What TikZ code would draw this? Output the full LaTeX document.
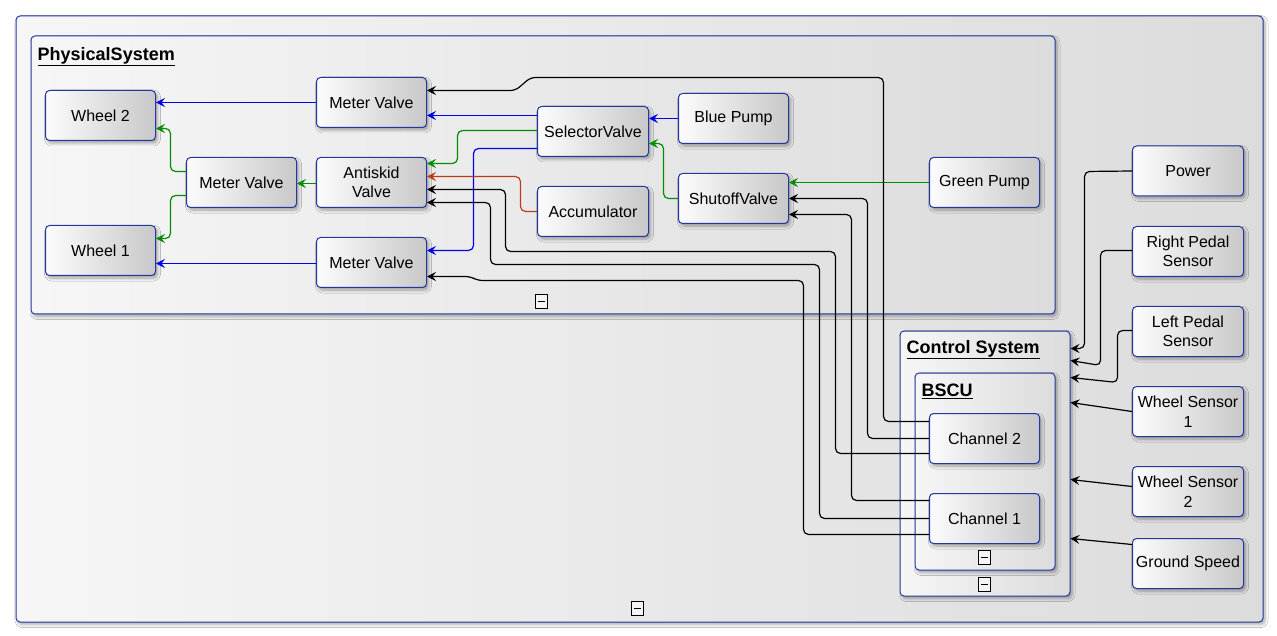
\documentclass[tikz,border=0pt]{standalone}
\usepackage{fontspec}
\setmainfont{Liberation Sans}
\usetikzlibrary{arrows.meta,shadows,shadows.blur}

\definecolor{frameblue}{RGB}{35,55,160}
\definecolor{flowblue}{RGB}{0,0,235}
\definecolor{flowgreen}{RGB}{0,140,0}
\definecolor{flowbrown}{RGB}{185,60,20}
\definecolor{boxlight}{RGB}{252,252,252}
\definecolor{boxdark}{RGB}{200,200,200}
\definecolor{panellight}{RGB}{246,246,246}
\definecolor{paneldark}{RGB}{220,220,220}

\tikzset{
  softshadow/.style={blur shadow={shadow xshift=2pt, shadow yshift=-2.5pt,
      shadow blur radius=3pt, shadow blur steps=6, shadow opacity=35}},
  block/.style={draw=frameblue, line width=1pt, rounded corners=4pt,
    minimum width=110pt, minimum height=50pt, inner sep=2pt, align=center,
    left color=boxlight, right color=boxdark, softshadow,
    font=\fontsize{16}{19.5}\selectfont},
  panel/.style={draw=frameblue, line width=1pt, rounded corners=4pt,
    anchor=north west, inner sep=0pt,
    left color=panellight, right color=paneldark, softshadow},
  paneltitle/.style={anchor=west, inner sep=0pt,
    font=\fontsize{18}{20}\selectfont\bfseries},
  collapse/.style={draw=black, line width=1pt, fill=white!96!black, inner sep=0pt,
    minimum width=12pt, minimum height=14pt,
    path picture={\draw[line width=1.3pt]
      ([xshift=-3.5pt]path picture bounding box.center) --
      ([xshift=3.5pt]path picture bounding box.center);}},
  flow/.style={line width=1.2pt, rounded corners=5pt,
    -{Stealth[length=9pt,width=9pt,inset=3.5pt]}},
}

\begin{document}
\begin{tikzpicture}[x=1pt,y=-1pt]
\useasboundingbox (0,0) rectangle (1277,636);
\fill[white] (0,0) rectangle (1277,636);

\begin{scope}[shift={(0.5,0.5)}]
% containers
\node[panel, minimum width=1247pt, minimum height=606pt] (outer) at (15,15) {};
\node[panel, minimum width=1024pt, minimum height=278pt] (phys) at (30,35) {};
\node[panel, minimum width=170pt, minimum height=265pt] (control) at (899,330) {};
\node[panel, minimum width=140pt, minimum height=197pt] (bscu) at (914,372) {};

\node[paneltitle] (physT) at (37,56) {\underline{PhysicalSystem}};
\node[paneltitle] (controlT) at (906,349) {\underline{Control System}};
\node[paneltitle] (bscuT) at (921,391) {\underline{BSCU}};

\node[collapse] (physC) at (541,301) {};
\node[collapse] (outerC) at (637,608) {};
\node[collapse] (bscuC) at (984,557) {};
\node[collapse] (controlC) at (984,584) {};

% physical components
\node[block] (wheel2) at (100,115) {Wheel 2};
\node[block] (wheel1) at (100,250) {Wheel 1};
\node[block] (mvmid) at (241,182) {Meter Valve};
\node[block] (mvtop) at (371,102) {Meter Valve};
\node[block] (antiskid) at (371,182) {Antiskid\\Valve};
\node[block] (mvlow) at (371,262) {Meter Valve};
\node[block, minimum width=111pt] (selector) at (592.5,131) {SelectorValve};
\node[block, minimum width=111pt] (accumulator) at (592.5,211) {Accumulator};
\node[block] (bluepump) at (733,118) {Blue Pump};
\node[block] (shutoff) at (733,198) {ShutoffValve};
\node[block] (greenpump) at (984,182) {Green Pump};

% controller channels
\node[block] (ch2) at (984,438) {Channel 2};
\node[block] (ch1) at (984,518) {Channel 1};

% inputs
\node[block, minimum width=111pt] (power) at (1187.5,170.5) {Power};
\node[block, minimum width=111pt] (rpedal) at (1187.5,251) {Right Pedal\\Sensor};
\node[block, minimum width=111pt] (lpedal) at (1187.5,331) {Left Pedal\\Sensor};
\node[block, minimum width=111pt] (ws1) at (1187.5,411) {Wheel Sensor\\1};
\node[block, minimum width=111pt] (ws2) at (1187.5,491) {Wheel Sensor\\2};
\node[block, minimum width=111pt] (ground) at (1187.5,563) {Ground Speed};

% blue hydraulic line
\draw[flow, flowblue] (mvtop.west) -- (wheel2.east |- 0,102);
\draw[flow, flowblue] (selector.west |- 0,115) -- (mvtop.east |- 0,115);
\draw[flow, flowblue] (selector.west |- 0,148) -- (473,148) |- (mvlow.east |- 0,250);
\draw[flow, flowblue] (bluepump.west) -- (selector.east |- 0,118);
\draw[flow, flowblue] (mvlow.west |- 0,263) -- (wheel1.east |- 0,263);

% green hydraulic line
\draw[flow, flowgreen] (mvmid.west |- 0,171) -- (170,171) |- (wheel2.east |- 0,128);
\draw[flow, flowgreen] (mvmid.west |- 0,195) -- (170,195) |- (wheel1.east |- 0,238);
\draw[flow, flowgreen] (antiskid.west |- 0,183) -- (mvmid.east |- 0,183);
\draw[flow, flowgreen] (selector.west |- 0,130) -- (457,130) |- (antiskid.east |- 0,163);
\draw[flow, flowgreen] (shutoff.west) -- (663,198) |- (selector.east |- 0,143);
\draw[flow, flowgreen] (greenpump.west) -- (shutoff.east |- 0,182);

% accumulator
\draw[flow, flowbrown] (accumulator.west) -- (520,211) |- (antiskid.east |- 0,176);

% channel commands
\draw[flow] (ch2.west |- 0,421) -| (883,77) -- (530,77) -- (515,90) -- (mvtop.east |- 0,90);
\draw[flow] (ch2.west |- 0,438) -| (867,198) -- (shutoff.east |- 0,198);
\draw[flow] (ch2.west |- 0,453) -| (835,251) -- (505,251) |- (antiskid.east |- 0,189);
\draw[flow] (ch1.west |- 0,500) -| (851,214) -- (shutoff.east |- 0,214);
\draw[flow] (ch1.west |- 0,518) -| (819,264) -- (490,264) |- (antiskid.east |- 0,202);
\draw[flow] (ch1.west |- 0,534) -| (803,280) -- (477,280) -- (470,276) -- (mvlow.east |- 0,276);

% sensor inputs
\draw[flow] (power.west) -- (1084,171) -- (1084,348) -- (control.east |- 0,348);
\draw[flow] (rpedal.west |- 0,250) -- (1100,250) -- (1100,365) -- (control.east |- 0,360);
\draw[flow] (lpedal.west |- 0,330) -- (1117,330) -- (1117,382) -- (control.east |- 0,377);
\draw[flow] (ws1.west) -- (control.east |- 0,402);
\draw[flow] (ws2.west |- 0,486) -- (control.east |- 0,479);
\draw[flow] (ground.west |- 0,544) -- (control.east |- 0,538);
\end{scope}
\end{tikzpicture}
\end{document}
